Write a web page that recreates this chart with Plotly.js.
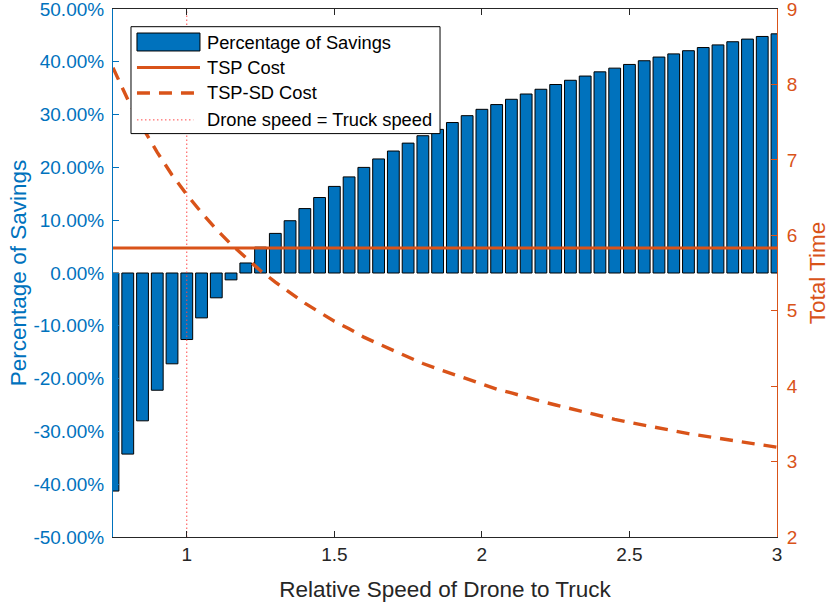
<!DOCTYPE html>
<html>
<head>
<meta charset="utf-8">
<script src="https://cdn.plot.ly/plotly-3.0.1.min.js"></script>
<style>
  html, body { margin: 0; padding: 0; background: #ffffff; }
  #plot { width: 830px; height: 604px; }
</style>
</head>
<body>
<div id="plot"></div>
<script>
// relative speed of drone vs truck
const speedRatio = [
  0.75, 0.8, 0.85, 0.9, 0.95, 1.0, 1.05, 1.1, 1.15, 1.2,
  1.25, 1.3, 1.35, 1.4, 1.45, 1.5, 1.55, 1.6, 1.65, 1.7,
  1.75, 1.8, 1.85, 1.9, 1.95, 2.0, 2.05, 2.1, 2.15, 2.2,
  2.25, 2.3, 2.35, 2.4, 2.45, 2.5, 2.55, 2.6, 2.65, 2.7,
  2.75, 2.8, 2.85, 2.9, 2.95, 3.0,
];

// savings, as a fraction
const savings = [
  -0.413, -0.343, -0.280, -0.222, -0.172, -0.126, -0.085, -0.047, -0.013, 0.019,
  0.049, 0.075, 0.099, 0.122, 0.143, 0.164, 0.182, 0.200, 0.216, 0.231,
  0.246, 0.260, 0.272, 0.285, 0.298, 0.310, 0.319, 0.329, 0.339, 0.348,
  0.357, 0.365, 0.373, 0.381, 0.388, 0.395, 0.402, 0.409, 0.415, 0.421,
  0.427, 0.432, 0.438, 0.443, 0.448, 0.453,
];

const tspSdCost = [
  8.22, 7.80, 7.43, 7.10, 6.80, 6.54, 6.30, 6.08, 5.88, 5.70,
  5.53, 5.38, 5.24, 5.10, 4.98, 4.86, 4.76, 4.65, 4.56, 4.47,
  4.38, 4.30, 4.23, 4.16, 4.09, 4.03, 3.96, 3.91, 3.85, 3.80,
  3.75, 3.70, 3.65, 3.61, 3.56, 3.52, 3.48, 3.44, 3.41, 3.37,
  3.34, 3.31, 3.27, 3.24, 3.21, 3.19,
];

const tspCost = 5.83;
const equalSpeed = 1;

const savingTicks = [-0.5, -0.4, -0.3, -0.2, -0.1, 0, 0.1, 0.2, 0.3, 0.4, 0.5];
const savingTickText = [
  "-50.00%", "-40.00%", "-30.00%", "-20.00%", "-10.00%", "0.00%",
  "10.00%", "20.00%", "30.00%", "40.00%", "50.00%",
];
const speedTicks = [1, 1.5, 2, 2.5, 3];
const timeTicks = [2, 3, 4, 5, 6, 7, 8, 9];

const legendLabels = [
  "Percentage of Savings",
  "TSP Cost",
  "TSP-SD Cost",
  "Drone speed = Truck speed",
];

const BLUE = "#0072BD";
const ORANGE = "#D95319";
const DOTRED = "#FF4848";
const DARK = "#262626";
const FONT = "Liberation Sans, Arial, sans-serif";
const CURVE_DASH = "13px,9px";
const DOT_DASH = "1.5px,2.5px";

const xFirst = speedRatio[0];
const xLast = speedRatio[speedRatio.length - 1];

const traces = [
  {
    type: "bar",
    name: legendLabels[0],
    x: speedRatio,
    y: savings,
    yaxis: "y",
    marker: { color: BLUE, line: { color: "#000000", width: 1 } },
  },
  {
    type: "scatter",
    mode: "lines",
    name: legendLabels[1],
    x: [xFirst, xLast],
    y: [tspCost, tspCost],
    yaxis: "y2",
    line: { color: ORANGE, width: 3 },
  },
  {
    type: "scatter",
    mode: "lines",
    name: legendLabels[2],
    x: speedRatio,
    y: tspSdCost,
    yaxis: "y2",
    line: { color: ORANGE, width: 3.4, dash: CURVE_DASH },
  },
  {
    type: "scatter",
    mode: "lines",
    name: legendLabels[3],
    x: [equalSpeed, equalSpeed],
    y: [savingTicks[0], savingTicks[savingTicks.length - 1]],
    yaxis: "y",
    line: { color: DOTRED, width: 1, dash: DOT_DASH },
  },
];

// hand-made legend box (matlab style long symbols), paper coords
const LEG = { x0: 0.0271, x1: 0.4925, y0: 0.764, y1: 0.9665, sx0: 0.0361, sx1: 0.131, tx: 0.1386 };
const legRows = [0.9375, 0.889, 0.841, 0.790];

const legendShapes = [
  {
    type: "rect", xref: "paper", yref: "paper",
    x0: LEG.x0, x1: LEG.x1, y0: LEG.y0, y1: LEG.y1,
    fillcolor: "#ffffff", line: { color: "#000000", width: 1 },
  },
  {
    type: "rect", xref: "paper", yref: "paper",
    x0: LEG.sx0, x1: LEG.sx1, y0: legRows[0] - 0.017, y1: legRows[0] + 0.017,
    fillcolor: BLUE, line: { color: "#000000", width: 1 },
  },
  {
    type: "line", xref: "paper", yref: "paper",
    x0: LEG.sx0, x1: LEG.sx1, y0: legRows[1], y1: legRows[1],
    line: { color: ORANGE, width: 3 },
  },
  {
    type: "line", xref: "paper", yref: "paper",
    x0: LEG.sx0, x1: LEG.sx1, y0: legRows[2], y1: legRows[2],
    line: { color: ORANGE, width: 3.4, dash: CURVE_DASH },
  },
  {
    type: "line", xref: "paper", yref: "paper",
    x0: LEG.sx0, x1: LEG.sx1 - 0.01, y0: legRows[3], y1: legRows[3],
    line: { color: DOTRED, width: 1, dash: DOT_DASH },
  },
];

const legendText = legendLabels.map((label, i) => ({
  xref: "paper", yref: "paper",
  x: LEG.tx, y: legRows[i],
  xanchor: "left", yanchor: "middle",
  text: label,
  showarrow: false,
  font: { family: FONT, size: 18.3, color: "#000000" },
}));

const layout = {
  width: 830,
  height: 604,
  paper_bgcolor: "#ffffff",
  plot_bgcolor: "#ffffff",
  font: { family: FONT, size: 19, color: DARK },
  margin: { l: 113, r: 53, t: 9, b: 67 },
  bargap: 0.2,
  showlegend: false,
  shapes: legendShapes,
  annotations: legendText,
  xaxis: {
    range: [xFirst, xLast],
    tickvals: speedTicks,
    ticktext: speedTicks.map(String),
    ticks: "inside",
    ticklen: 6,
    tickcolor: DARK,
    showline: true,
    linecolor: DARK,
    linewidth: 1,
    mirror: "ticks",
    showgrid: false,
    zeroline: false,
    ticklabeloverflow: "allow",
    tickfont: { family: FONT, size: 19, color: DARK },
    title: { text: "Relative Speed of Drone to Truck", font: { family: FONT, size: 22.5, color: DARK }, standoff: 17 },
  },
  yaxis: {
    range: [savingTicks[0], savingTicks[savingTicks.length - 1]],
    tickvals: savingTicks,
    ticktext: savingTickText,
    ticks: "inside",
    ticklen: 6,
    tickcolor: BLUE,
    showline: true,
    linecolor: BLUE,
    linewidth: 1,
    showgrid: false,
    zeroline: false,
    ticklabeloverflow: "allow",
    ticklabelstandoff: 4,
    tickfont: { family: FONT, size: 19, color: BLUE },
    title: { text: "Percentage of Savings", font: { family: FONT, size: 22.5, color: BLUE }, standoff: 0 },
  },
  yaxis2: {
    overlaying: "y",
    side: "right",
    range: [timeTicks[0], timeTicks[timeTicks.length - 1]],
    tickvals: timeTicks,
    ticktext: timeTicks.map(String),
    ticks: "inside",
    ticklen: 6,
    tickcolor: ORANGE,
    showline: true,
    linecolor: ORANGE,
    linewidth: 1,
    showgrid: false,
    zeroline: false,
    ticklabeloverflow: "allow",
    ticklabelstandoff: 5,
    tickfont: { family: FONT, size: 19, color: ORANGE },
    title: { text: "Total Time", font: { family: FONT, size: 22.5, color: ORANGE }, standoff: 14 },
  },
};

Plotly.newPlot("plot", traces, layout, { displayModeBar: false, staticPlot: true });
</script>
</body>
</html>
